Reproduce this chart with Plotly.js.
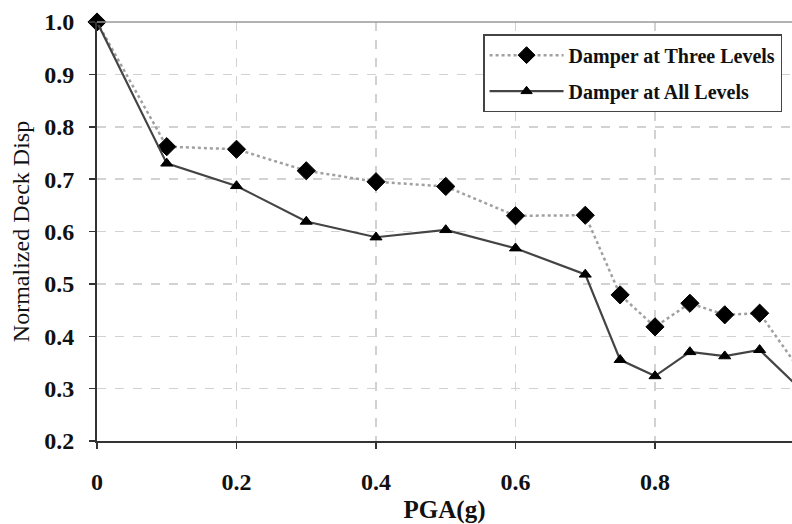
<!DOCTYPE html>
<html>
<head>
<meta charset="utf-8">
<script src="https://cdn.plot.ly/plotly-3.0.1.min.js"></script>
<style>html,body{margin:0;padding:0;background:#fff;}#chart{width:792px;height:524px;}</style>
</head>
<body>
<div id="chart"></div>
<script>
var pga = [0, 0.1, 0.2, 0.3, 0.4, 0.5, 0.6, 0.7, 0.75, 0.8, 0.85, 0.9, 0.95, 1.0];
var threeLevels = [1.0, 0.762, 0.757, 0.716, 0.695, 0.686, 0.630, 0.631, 0.479, 0.418, 0.463, 0.441, 0.444, 0.35];
var allLevels = [1.0, 0.730, 0.687, 0.619, 0.589, 0.603, 0.568, 0.518, 0.355, 0.324, 0.370, 0.362, 0.374, 0.31];
var seriesNames = ["Damper at Three Levels", "Damper at All Levels"];
var xTickVals = [0, 0.2, 0.4, 0.6, 0.8];
var xTickText = ["0", "0.2", "0.4", "0.6", "0.8"];
var yTickVals = [0.2, 0.3, 0.4, 0.5, 0.6, 0.7, 0.8, 0.9, 1.0];
var yTickText = ["0.2", "0.3", "0.4", "0.5", "0.6", "0.7", "0.8", "0.9", "1.0"];

var serif = "Liberation Serif, Times New Roman, serif";
function sizes(base) { return pga.map(function (x) { return x < 1 ? base : 0; }); }

var traces = [
  {
    x: pga, y: threeLevels, name: seriesNames[0], type: "scatter", mode: "lines+markers",
    line: { color: "#a0a0a0", width: 2.5, dash: "dot" },
    marker: { symbol: "diamond", size: sizes(14), color: "rgb(0,0,0)", opacity: 1, line: { color: "rgb(0,0,0)", width: 1 } },
    opacity: 1, cliponaxis: false, legendgroup: "a"
  },
  {
    x: pga, y: allLevels, name: seriesNames[1], type: "scatter", mode: "lines+markers",
    line: { color: "#444", width: 2.2 },
    marker: { symbol: "triangle-up", size: sizes(10.5), color: "rgb(0,0,0)", opacity: 1, line: { color: "rgb(0,0,0)", width: 1 } },
    opacity: 1, cliponaxis: false, legendgroup: "b"
  }
];

var layout = {
  width: 792, height: 524,
  margin: { l: 97, r: 0, t: 22, b: 83 },
  paper_bgcolor: "#fff", plot_bgcolor: "#fff",
  font: { family: serif, color: "#111" },
  showlegend: true,
  legend: {
    x: 0.5555, y: 0.971, xanchor: "left", yanchor: "top",
    bgcolor: "#fff", bordercolor: "#444", borderwidth: 1.5,
    font: { family: serif, size: 20, color: "#111", weight: "bold" },
    itemwidth: 74, tracegroupgap: 7, traceorder: "grouped"
  },
  xaxis: {
    range: [0, 0.9964], tickvals: xTickVals, ticktext: xTickText,
    showline: true, linecolor: "#333", linewidth: 2,
    ticks: "outside", ticklen: 6, tickwidth: 1.5, tickcolor: "#333",
    ticklabelstandoff: 12,
    showgrid: true, gridcolor: "#d2d2d2", gridwidth: 1.5, griddash: "dash",
    zeroline: false,
    tickfont: { family: serif, size: 24, color: "#111", weight: "bold" },
    title: { text: "PGA(g)", font: { family: serif, size: 25, color: "#111", weight: "bold" }, standoff: 8 }
  },
  yaxis: {
    range: [0.2, 1.0], tickvals: yTickVals, ticktext: yTickText,
    showline: true, linecolor: "#333", linewidth: 2,
    ticks: "outside", ticklen: 6, tickwidth: 1.5, tickcolor: "#333",
    ticklabelstandoff: 10,
    showgrid: true, gridcolor: "#d2d2d2", gridwidth: 1.5, griddash: "dash",
    zeroline: false,
    tickfont: { family: serif, size: 24, color: "#111", weight: "bold" },
    title: { text: "Normalized Deck Disp", font: { family: serif, size: 24, color: "#111" }, standoff: 8 }
  },
  shapes: [
    { type: "line", xref: "paper", yref: "paper", x0: 0, x1: 1, y0: 1, y1: 1, line: { color: "#999", width: 1.5 } }
  ]
};

Plotly.newPlot("chart", traces, layout, { displayModeBar: false, staticPlot: true });
</script>
</body>
</html>
